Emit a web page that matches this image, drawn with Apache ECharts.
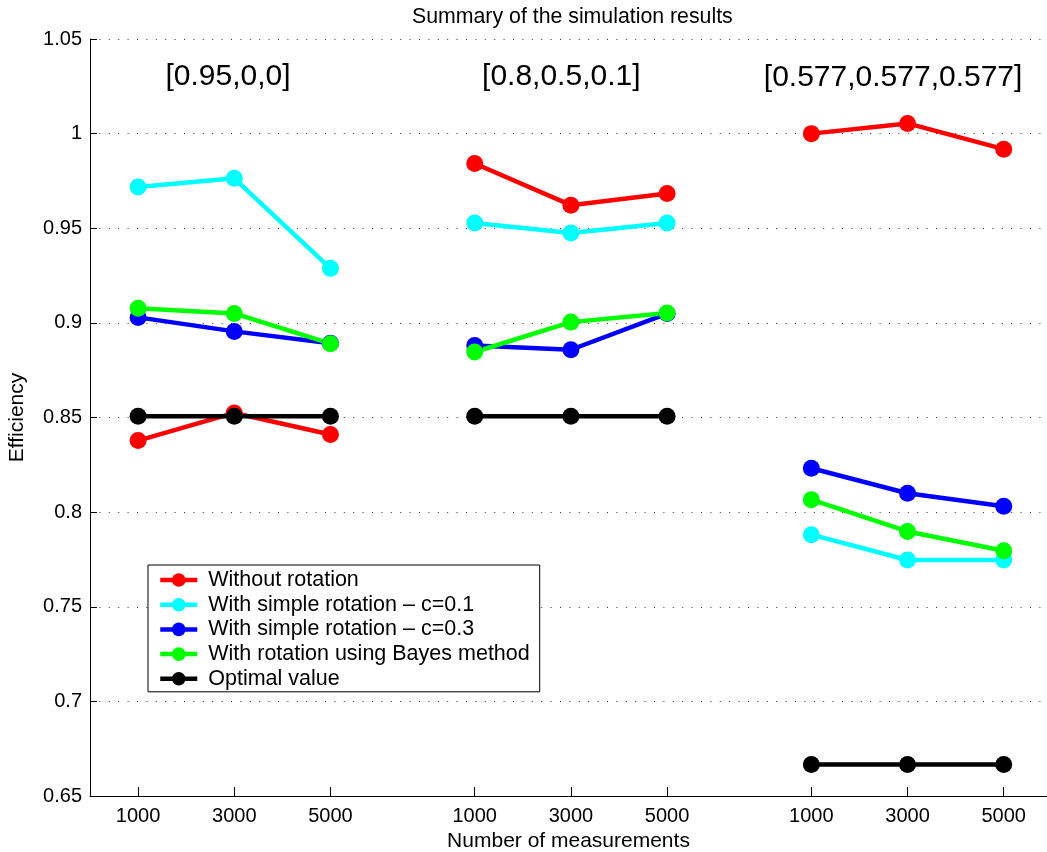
<!DOCTYPE html>
<html>
<head>
<meta charset="utf-8">
<script src="https://cdn.jsdelivr.net/npm/echarts@6/dist/echarts.min.js"></script>
<style>
html,body{margin:0;padding:0;background:#fff;}
#chart{width:1047px;height:852px;}
</style>
</head>
<body>
<div id="chart"></div>
<script>
// ---- data ----
const measurementLabels = ['1000', '3000', '5000'];
const groupStarts = [1, 4.5, 8];            // x-position of the first measurement in each group
const groupNames = ['[0.95,0,0]', '[0.8,0.5,0.1]', '[0.577,0.577,0.577]'];
const seriesNames = ['Without rotation', 'With simple rotation \u2013 c=0.1', 'With simple rotation \u2013 c=0.3', 'With rotation using Bayes method', 'Optimal value'];
const seriesColors = ['#ff0000', '#00ffff', '#0000ff', '#00ff00', '#000000'];

// values per series, per group (3 measurement counts each)
const withoutRotation = [[0.8378, 0.8524, 0.8410], [0.9842, 0.9622, 0.9684], [1.0000, 1.0054, 0.9918]];
const simpleRotC01   = [[0.9718, 0.9764, 0.9288], [0.9528, 0.9475, 0.9528], [0.7881, 0.7747, 0.7747]];
const simpleRotC03   = [[0.9029, 0.8955, 0.8892], [0.8881, 0.8858, 0.9049], [0.8232, 0.8100, 0.8031]];
const bayesRotation  = [[0.9077, 0.9050, 0.8890], [0.8846, 0.9004, 0.9052], [0.8066, 0.7898, 0.7796]];
const optimalValue   = [[0.8506, 0.8506, 0.8506], [0.8506, 0.8506, 0.8506], [0.6667, 0.6667, 0.6667]];
const allValues = [withoutRotation, simpleRotC01, simpleRotC03, bayesRotation, optimalValue];

// annotation anchors (data coordinates)
const groupLabelX = [1.935, 5.40, 8.85];
const groupLabelY = [1.030, 1.030, 1.0295];

const yTicks = {min: 0.65, max: 1.05, interval: 0.05};

// ---- build ----
const tickPositions = [];
const tickLabelMap = {};
groupStarts.forEach(s => measurementLabels.forEach((lab, i) => {
  tickPositions.push(s + i);
  tickLabelMap[String(s + i)] = lab;
}));

const FONT = '"Liberation Sans", Arial, Helvetica, sans-serif';

const series = [];
allValues.forEach((vals, k) => {
  vals.forEach((grp, g) => {
    series.push({
      type: 'line',
      name: seriesNames[k],
      data: grp.map((v, i) => [groupStarts[g] + i, v]),
      symbol: 'circle',
      symbolSize: 17,
      showSymbol: true,
      showAllSymbol: true,
      lineStyle: {width: 4.5, color: seriesColors[k]},
      itemStyle: {color: seriesColors[k]},
      emphasis: {disabled: true},
      animation: false,
      z: 2
    });
  });
});
series.push({
  type: 'scatter',
  name: 'annotations',
  data: groupNames.map((n, g) => ({value: [groupLabelX[g], groupLabelY[g]], name: n})),
  symbolSize: 0,
  silent: true,
  itemStyle: {opacity: 1},
  label: {
    show: true,
    position: 'inside',
    formatter: p => p.name,
    color: '#000',
    opacity: 1,
    fontSize: 30,
    fontFamily: FONT
  },
  animation: false,
  z: 5
});

const chart = echarts.init(document.getElementById('chart'), null, {renderer: 'canvas'});
chart.setOption({
  backgroundColor: '#fff',
  animation: false,
  title: {
    text: 'Summary of the simulation results',
    left: 412,
    top: 7,
    padding: 0,
    textStyle: {fontSize: 21.3, fontWeight: 'normal', color: '#000', fontFamily: FONT}
  },
  grid: {left: 90, right: 0, top: 39, bottom: 56, containLabel: false, outerBoundsMode: 'none'},
  legend: {
    data: seriesNames,
    orient: 'vertical',
    left: 148,
    top: 565,
    backgroundColor: '#fff',
    borderColor: '#000',
    borderWidth: 1,
    padding: [4, 10, 2, 10],
    itemWidth: 37,
    itemHeight: 17,
    itemGap: 2.7,
    selectedMode: false,
    lineStyle: {width: 4.5},
    textStyle: {fontSize: 21.5, lineHeight: 21, color: '#000', fontFamily: FONT, padding: [0, 0, 0, 6]},
    z: 10
  },
  xAxis: {
    type: 'value',
    min: 0.5,
    max: 10.45,
    name: 'Number of measurements',
    nameLocation: 'middle',
    nameGap: 34,
    nameTextStyle: {fontSize: 21, color: '#000', fontFamily: FONT},
    axisLine: {show: true, onZero: false, lineStyle: {color: '#000', width: 1}},
    axisTick: {show: true, inside: true, length: 9, customValues: tickPositions, lineStyle: {color: '#000'}},
    axisLabel: {
      show: true, customValues: tickPositions, margin: 10,
      fontSize: 20, color: '#000', fontFamily: FONT,
      formatter: v => tickLabelMap[String(v)] || ''
    },
    splitLine: {show: false}
  },
  yAxis: {
    type: 'value',
    min: yTicks.min,
    max: yTicks.max,
    interval: yTicks.interval,
    name: 'Efficiency',
    nameLocation: 'middle',
    nameGap: 62,
    nameTextStyle: {fontSize: 21, color: '#000', fontFamily: FONT},
    axisLine: {show: true, lineStyle: {color: '#000', width: 1}},
    axisTick: {show: true, inside: true, length: 7, lineStyle: {color: '#000'}},
    axisLabel: {fontSize: 20, color: '#000', margin: 8, fontFamily: FONT},
    splitLine: {show: true, lineStyle: {color: '#333', width: 1, type: [1, 8.4]}}
  },
  series: series
});
</script>
</body>
</html>
